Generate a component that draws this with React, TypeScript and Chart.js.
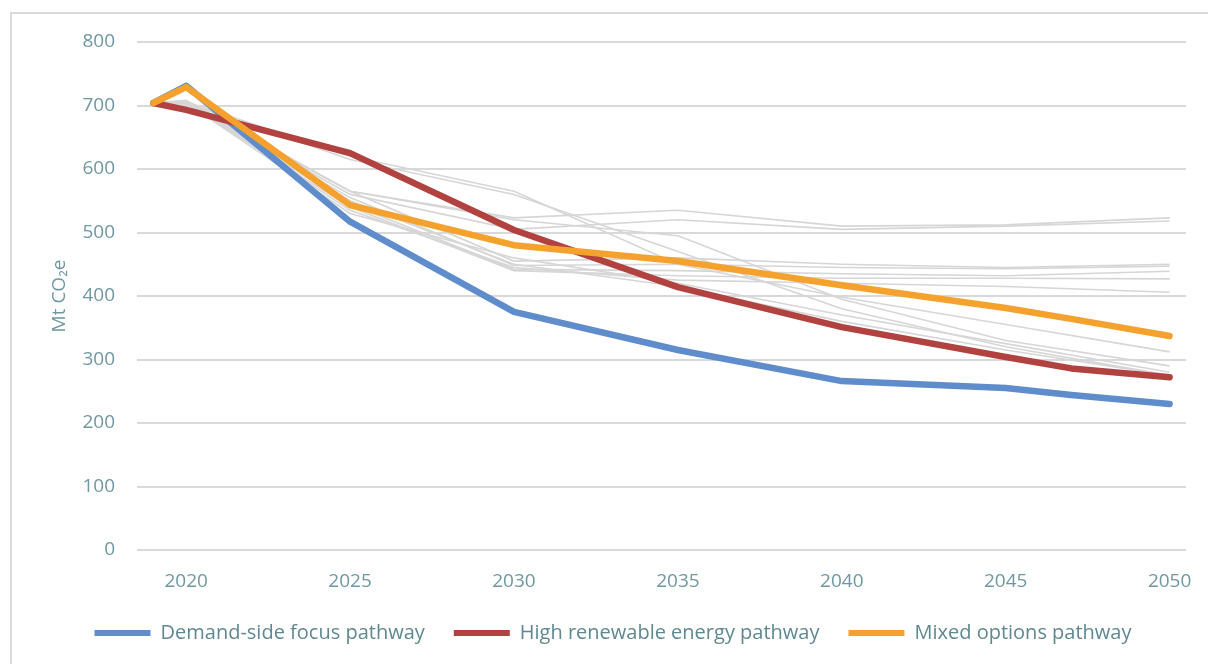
import React, { useEffect, useRef } from "react";
import { Chart, registerables } from "chart.js";

Chart.register(...registerables);

// Main pathways (Mt CO2e)
const mainYears = [2019, 2020, 2025, 2030, 2035, 2040, 2045, 2047, 2050];
const demandSide = [704, 731, 517, 375, 315, 266, 255, 244, 230];
const highRenewable = [704, 693, 625, 504, 414, 351, 304, 286, 272];
const mixedOptions = [704, 729, 543, 480, 455, 417, 381, 364, 337];

// Other explored scenarios (grey)
const otherYears = [2019, 2020, 2025, 2030, 2035, 2040, 2045, 2050];
const other1 = [704, 708, 565, 523, 535, 510, 512, 523];
const other2 = [704, 705, 560, 505, 520, 505, 510, 518];
const other3 = [704, 706, 620, 565, 450, 398, 355, 312];
const other4 = [704, 704, 615, 560, 470, 380, 320, 275];
const other5 = [704, 706, 565, 455, 460, 450, 445, 450];
const other6 = [704, 702, 555, 448, 450, 445, 443, 447];
const other7 = [704, 705, 545, 442, 440, 435, 432, 439];
const other8 = [704, 703, 540, 440, 432, 428, 428, 427];
const other9 = [704, 706, 535, 445, 425, 420, 415, 406];
const other10 = [704, 704, 530, 460, 420, 370, 325, 280];
const other11 = [704, 707, 550, 450, 415, 360, 315, 275];
const other12 = [704, 705, 565, 520, 495, 395, 330, 290];
const otherSeries = [other1, other2, other3, other4, other5, other6, other7, other8, other9, other10, other11, other12];

const xTickYears = [2020, 2025, 2030, 2035, 2040, 2045, 2050];
const seriesNames = ["Demand-side focus pathway", "High renewable energy pathway", "Mixed options pathway"];
const seriesColors = ["#5f8dcc", "#b1423f", "#f5a12e"];

const FONT = "'Open Sans', 'Noto Sans', sans-serif";
const TEXT = "#6f98a2";

function pts(years: number[], vals: number[]) {
  return years.map((y, i) => ({ x: y, y: vals[i] }));
}

export default function App() {
  const ref = useRef<HTMLCanvasElement | null>(null);

  useEffect(() => {
    if (!ref.current) return;
    const mains = [demandSide, highRenewable, mixedOptions].map((vals, i) => ({
      label: seriesNames[i],
      data: pts(mainYears, vals),
      borderColor: seriesColors[i],
      backgroundColor: seriesColors[i],
      borderWidth: 6.5,
      pointRadius: 0,
      tension: 0,
      borderJoinStyle: "round" as const,
      borderCapStyle: "round" as const,
      order: [2, 1, 0][i],
    }));
    const greys = otherSeries.map((vals, i) => ({
      label: "other" + (i + 1),
      data: pts(otherYears, vals),
      borderColor: "#d6d6d6",
      backgroundColor: "#d6d6d6",
      borderWidth: 1.6,
      pointRadius: 0,
      tension: 0,
      order: 5,
    }));

    const chart = new Chart(ref.current, {
      type: "line",
      data: { datasets: [...mains, ...greys] as any },
      options: {
        animation: false,
        responsive: false,
        maintainAspectRatio: false,
        layout: { padding: { left: 40, right: 22, top: 42, bottom: 11 } },
        plugins: {
          tooltip: { enabled: false },
          legend: {
            position: "bottom",
            labels: {
              font: { family: FONT, size: 20 },
              color: "#5f8891",
              boxWidth: 56,
              boxHeight: 6,
              padding: 29,
              useBorderRadius: true,
              borderRadius: 3,
              generateLabels: () =>
                seriesNames.map((name, i) => ({
                  text: name,
                  fillStyle: seriesColors[i],
                  strokeStyle: seriesColors[i],
                  lineWidth: 0,
                  hidden: false,
                  datasetIndex: i,
                  fontColor: "#5f8891",
                })),
            },
          },
        },
        scales: {
          x: {
            type: "linear",
            min: 2018.5,
            max: 2050.5,
            grid: { display: false },
            border: { display: false },
            afterBuildTicks: (s: any) => {
              s.ticks = xTickYears.map((v) => ({ value: v }));
            },
            afterFit: (s: any) => {
              s.height = 44;
            },
            ticks: {
              autoSkip: false,
              maxRotation: 0,
              padding: 12,
              color: TEXT,
              font: { family: FONT, size: 19 },
              callback: (v: any) => String(v),
            },
          },
          y: {
            min: 0,
            max: 800,
            border: { display: false },
            grid: { color: "#d9d9d9", lineWidth: 2, drawTicks: false },
            afterFit: (s: any) => {
              s.width = 97;
            },
            ticks: {
              stepSize: 100,
              padding: 22,
              color: TEXT,
              font: { family: FONT, size: 19 },
            },
            title: {
              display: true,
              text: "Mt CO\u2082e",
              color: TEXT,
              font: { family: FONT, size: 19 },
              padding: { top: 8, bottom: 0 },
            },
          },
        },
      },
    });
    return () => chart.destroy();
  }, []);

  return (
    <div style={{ position: "fixed", left: 0, top: 0, width: 1208, height: 664, overflow: "hidden", background: "#fff" }}>
      <div
        style={{
          position: "absolute",
          left: 10,
          top: 12,
          width: 1220,
          height: 680,
          border: "2px solid #d9d9d9",
          boxSizing: "border-box",
        }}
      />
      <canvas ref={ref} width={1208} height={664} style={{ position: "absolute", left: 0, top: 0 }} />
    </div>
  );
}
